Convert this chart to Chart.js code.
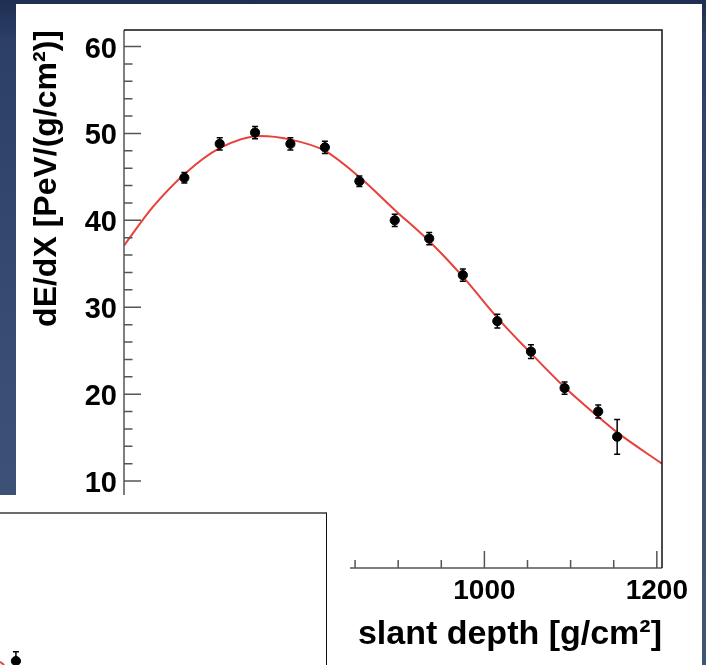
<!DOCTYPE html>
<html>
<head>
<meta charset="utf-8">
<title>dE/dX vs slant depth</title>
<script src="https://cdn.jsdelivr.net/npm/chart.js@4"></script>
<style>
  html, body { margin: 0; padding: 0; }
  body {
    width: 706px; height: 665px; position: relative; overflow: hidden;
    background: linear-gradient(to bottom, #1f2d52 0px, #2c3f66 40px, #3b4e74 400px, #41557a 665px);
  }
  #panel { position: absolute; left: 16px; top: 4px; width: 686px; height: 661px; background: #fff; }
  #main { position: absolute; left: 0; top: 0; }
  #cover { position: absolute; left: 0; top: 495px; width: 350px; height: 170px; background: #fff; }
  #inset {
    position: absolute; left: 0; top: 512px; width: 327px; height: 153px; box-sizing: border-box;
    background: #fff; border-top: 2px solid #6b6b6b; border-right: 1.5px solid #111;
  }
  #insetCanvas { position: absolute; left: 0; top: 0; }
</style>
</head>
<body>
<div id="panel"></div>
<canvas id="main" width="706" height="665"></canvas>
<div id="cover"></div>
<div id="inset"><canvas id="insetCanvas" width="325" height="151"></canvas></div>
<script>
// measured points
const depth = [652, 693, 734, 775, 815, 855, 896, 936, 975, 1015, 1054, 1093, 1132, 1154];
const dEdX = [44.9, 48.8, 50.1, 48.8, 48.4, 44.5, 40.0, 37.9, 33.7, 28.4, 24.9, 20.7, 18.0, 15.1];
const dEdXErr = [0.6, 0.7, 0.7, 0.7, 0.7, 0.6, 0.7, 0.7, 0.7, 0.8, 0.8, 0.7, 0.75, 2.0];

// fitted curve
const fitDepth = [582, 616, 653, 693, 740, 775, 815, 856, 896, 937, 976, 1014, 1054, 1094, 1132, 1154, 1206];
const fitdEdX = [37.1, 41.6, 45.4, 48.3, 49.7, 49.3, 48.0, 44.9, 41.2, 37.5, 33.4, 28.9, 24.7, 20.7, 17.4, 15.6, 12.0];

const xTicks = [600, 800, 1000, 1200];
const yTicks = [0, 10, 20, 30, 40, 50, 60];
const xMinorStep = 50;
const yMinorStep = 2;

// the small overlapping plot in the lower left corner
const insetX = [4.9];
const insetY = [2.6];
const insetErr = [6.2];
const insetFitX = [0, 1.3];
const insetFitY = [2.2, 0];

Chart.defaults.font.family = "'Liberation Sans', Arial, sans-serif";
Chart.defaults.color = '#000';

function toXY(xs, ys) {
    return xs.map((x, i) => ({x: x, y: ys[i]}));
}

const errorBars = {
    id: 'errorBars',
    afterDatasetsDraw(chart) {
        const ctx = chart.ctx;
        const x = chart.scales.x, y = chart.scales.y;
        ctx.save();
        ctx.strokeStyle = '#000';
        ctx.lineWidth = 1.5;
        chart.data.datasets.forEach(ds => {
            if (!ds.errors) return;
            ds.data.forEach((p, i) => {
                const e = ds.errors[i];
                const px = x.getPixelForValue(p.x);
                const lo = y.getPixelForValue(p.y - e);
                const hi = y.getPixelForValue(p.y + e);
                ctx.beginPath();
                ctx.moveTo(px, lo); ctx.lineTo(px, hi);
                ctx.moveTo(px - 3, lo); ctx.lineTo(px + 3, lo);
                ctx.moveTo(px - 3, hi); ctx.lineTo(px + 3, hi);
                ctx.stroke();
            });
        });
        ctx.restore();
    }
};

// ROOT-style frame with ticks pointing inwards
const frameTicks = {
    id: 'frameTicks',
    afterDatasetsDraw(chart) {
        const ctx = chart.ctx;
        const a = chart.chartArea;
        const x = chart.scales.x, y = chart.scales.y;
        ctx.save();
        ctx.lineWidth = 1.5;
        ctx.strokeStyle = '#555';
        ctx.beginPath();
        for (let v = y.min - (y.min % yMinorStep); v <= y.max; v += yMinorStep) {
            const py = y.getPixelForValue(v);
            const len = yTicks.includes(v) ? 17 : 8.5;
            ctx.moveTo(a.left, py); ctx.lineTo(a.left + len, py);
        }
        for (let v = Math.ceil(x.min / xMinorStep) * xMinorStep; v <= x.max; v += xMinorStep) {
            const px = x.getPixelForValue(v);
            const len = xTicks.includes(v) ? 17 : 8;
            ctx.moveTo(px, a.bottom); ctx.lineTo(px, a.bottom - len);
        }
        ctx.moveTo(a.left, a.top); ctx.lineTo(a.left, a.bottom);
        ctx.moveTo(a.left, a.bottom); ctx.lineTo(a.right, a.bottom);
        ctx.stroke();
        ctx.strokeStyle = '#111';
        ctx.beginPath();
        ctx.moveTo(a.left, a.top); ctx.lineTo(a.right, a.top); ctx.lineTo(a.right, a.bottom);
        ctx.stroke();
        ctx.restore();
    }
};

new Chart(document.getElementById('main').getContext('2d'), {
    type: 'scatter',
    data: {
        datasets: [
            {
                data: toXY(depth, dEdX),
                errors: dEdXErr,
                pointRadius: 4.6,
                pointBackgroundColor: '#000',
                pointBorderColor: '#000',
                showLine: false
            },
            {
                data: toXY(fitDepth, fitdEdX),
                showLine: true,
                pointRadius: 0,
                borderColor: '#e8403a',
                borderWidth: 2,
                cubicInterpolationMode: 'monotone'
            }
        ]
    },
    options: {
        responsive: false,
        animation: false,
        events: [],
        layout: { padding: { top: 30, right: 44, bottom: 0, left: 0 } },
        plugins: { legend: { display: false }, tooltip: { enabled: false } },
        scales: {
            x: {
                type: 'linear',
                min: 582,
                max: 1206,
                afterBuildTicks: s => { s.ticks = xTicks.map(v => ({value: v})); },
                afterFit: s => { s.height = 97; },
                grid: { display: false, drawTicks: false },
                border: { display: false },
                ticks: {
                    padding: 6,
                    maxRotation: 0,
                    autoSkip: false,
                    font: { size: 28, weight: 'bold' },
                    callback: v => String(v)
                },
                title: {
                    display: true,
                    text: 'slant depth [g/cm²]',
                    align: 'end',
                    padding: { top: 0, bottom: 10 },
                    font: { size: 34, weight: 'bold' }
                }
            },
            y: {
                type: 'linear',
                min: 0,
                max: 61.9,
                afterBuildTicks: s => { s.ticks = yTicks.map(v => ({value: v})); },
                afterFit: s => { s.width = 124; },
                grid: { display: false, drawTicks: false },
                border: { display: false },
                ticks: {
                    padding: 7,
                    labelOffset: 3,
                    autoSkip: false,
                    font: { size: 29, weight: 'bold' },
                    callback: v => String(v)
                },
                title: {
                    display: true,
                    text: 'dE/dX [PeV/(g/cm²)]',
                    align: 'end',
                    padding: { top: 28, bottom: 0 },
                    font: { size: 32, weight: 'bold' }
                }
            }
        }
    },
    plugins: [errorBars, frameTicks]
});

new Chart(document.getElementById('insetCanvas').getContext('2d'), {
    type: 'scatter',
    data: {
        datasets: [
            {
                data: toXY(insetX, insetY),
                errors: insetErr,
                pointRadius: 4.6,
                pointBackgroundColor: '#000',
                pointBorderColor: '#000',
                showLine: false
            },
            {
                data: toXY(insetFitX, insetFitY),
                showLine: true,
                pointRadius: 0,
                borderColor: '#e8403a',
                borderWidth: 2
            }
        ]
    },
    options: {
        responsive: false,
        animation: false,
        events: [],
        layout: { padding: 0, autoPadding: false },
        plugins: { legend: { display: false }, tooltip: { enabled: false } },
        scales: {
            x: { type: 'linear', min: 0, max: 100, display: false },
            y: { type: 'linear', min: 0, max: 100, display: false }
        }
    },
    plugins: [errorBars]
});
</script>
</body>
</html>
